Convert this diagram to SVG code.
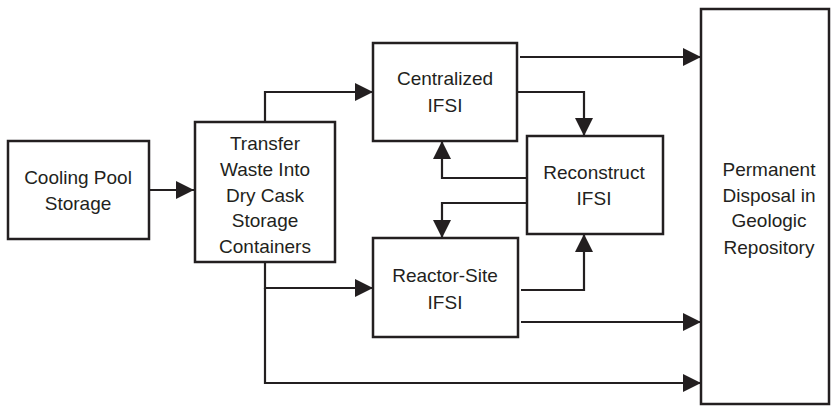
<svg xmlns="http://www.w3.org/2000/svg" width="831" height="408" viewBox="0 0 831 408">
<defs>
<style>
.box{fill:#fff;stroke:#231f20;stroke-width:2.5}
.ln{fill:none;stroke:#231f20;stroke-width:2.2;marker-end:url(#ah)}
text{font-family:"Liberation Sans",Arial,sans-serif;font-size:19px;fill:#231f20;text-anchor:middle}
</style>
<marker id="ah" markerUnits="userSpaceOnUse" markerWidth="18" markerHeight="18" refX="18" refY="9" orient="auto" viewBox="0 0 18 18">
<path d="M0,0 L18,9 L0,18 z" fill="#231f20"/>
</marker>
</defs>
<rect width="831" height="408" fill="#fff"/>
<g id="connectors">
<path class="ln" d="M149,190 H194"/>
<path class="ln" d="M265,122 V92 H373"/>
<path class="ln" d="M265,262 V288 H373"/>
<path class="ln" d="M265,288 V383 H701"/>
<path class="ln" d="M520,57 H701"/>
<path class="ln" d="M517,92 H584 V136"/>
<path class="ln" d="M527,178 H442 V141"/>
<path class="ln" d="M527,203 H442 V238"/>
<path class="ln" d="M521,290 H584 V234"/>
<path class="ln" d="M521,322 H701"/>
</g>
<g id="cooling">
<rect class="box" x="8" y="141" width="141" height="98"/>
<text x="78" y="184">Cooling Pool</text>
<text x="78" y="210">Storage</text>
</g>
<g id="transfer">
<rect class="box" x="195" y="122" width="140" height="140"/>
<text x="265" y="150">Transfer</text>
<text x="265" y="176">Waste Into</text>
<text x="265" y="202">Dry Cask</text>
<text x="265" y="227">Storage</text>
<text x="265" y="253">Containers</text>
</g>
<g id="centralized">
<rect class="box" x="373" y="43" width="144" height="98"/>
<text x="445" y="85">Centralized</text>
<text x="445" y="112">IFSI</text>
</g>
<g id="reconstruct">
<rect class="box" x="527" y="136" width="136" height="98"/>
<text x="594" y="179">Reconstruct</text>
<text x="594" y="205">IFSI</text>
</g>
<g id="reactor">
<rect class="box" x="373" y="238" width="145" height="99"/>
<text x="445" y="282">Reactor-Site</text>
<text x="445" y="309">IFSI</text>
</g>
<g id="permanent">
<rect class="box" x="701" y="9" width="128" height="395"/>
<text x="769" y="176">Permanent</text>
<text x="769" y="202">Disposal in</text>
<text x="769" y="227">Geologic</text>
<text x="769" y="254">Repository</text>
</g>
</svg>
